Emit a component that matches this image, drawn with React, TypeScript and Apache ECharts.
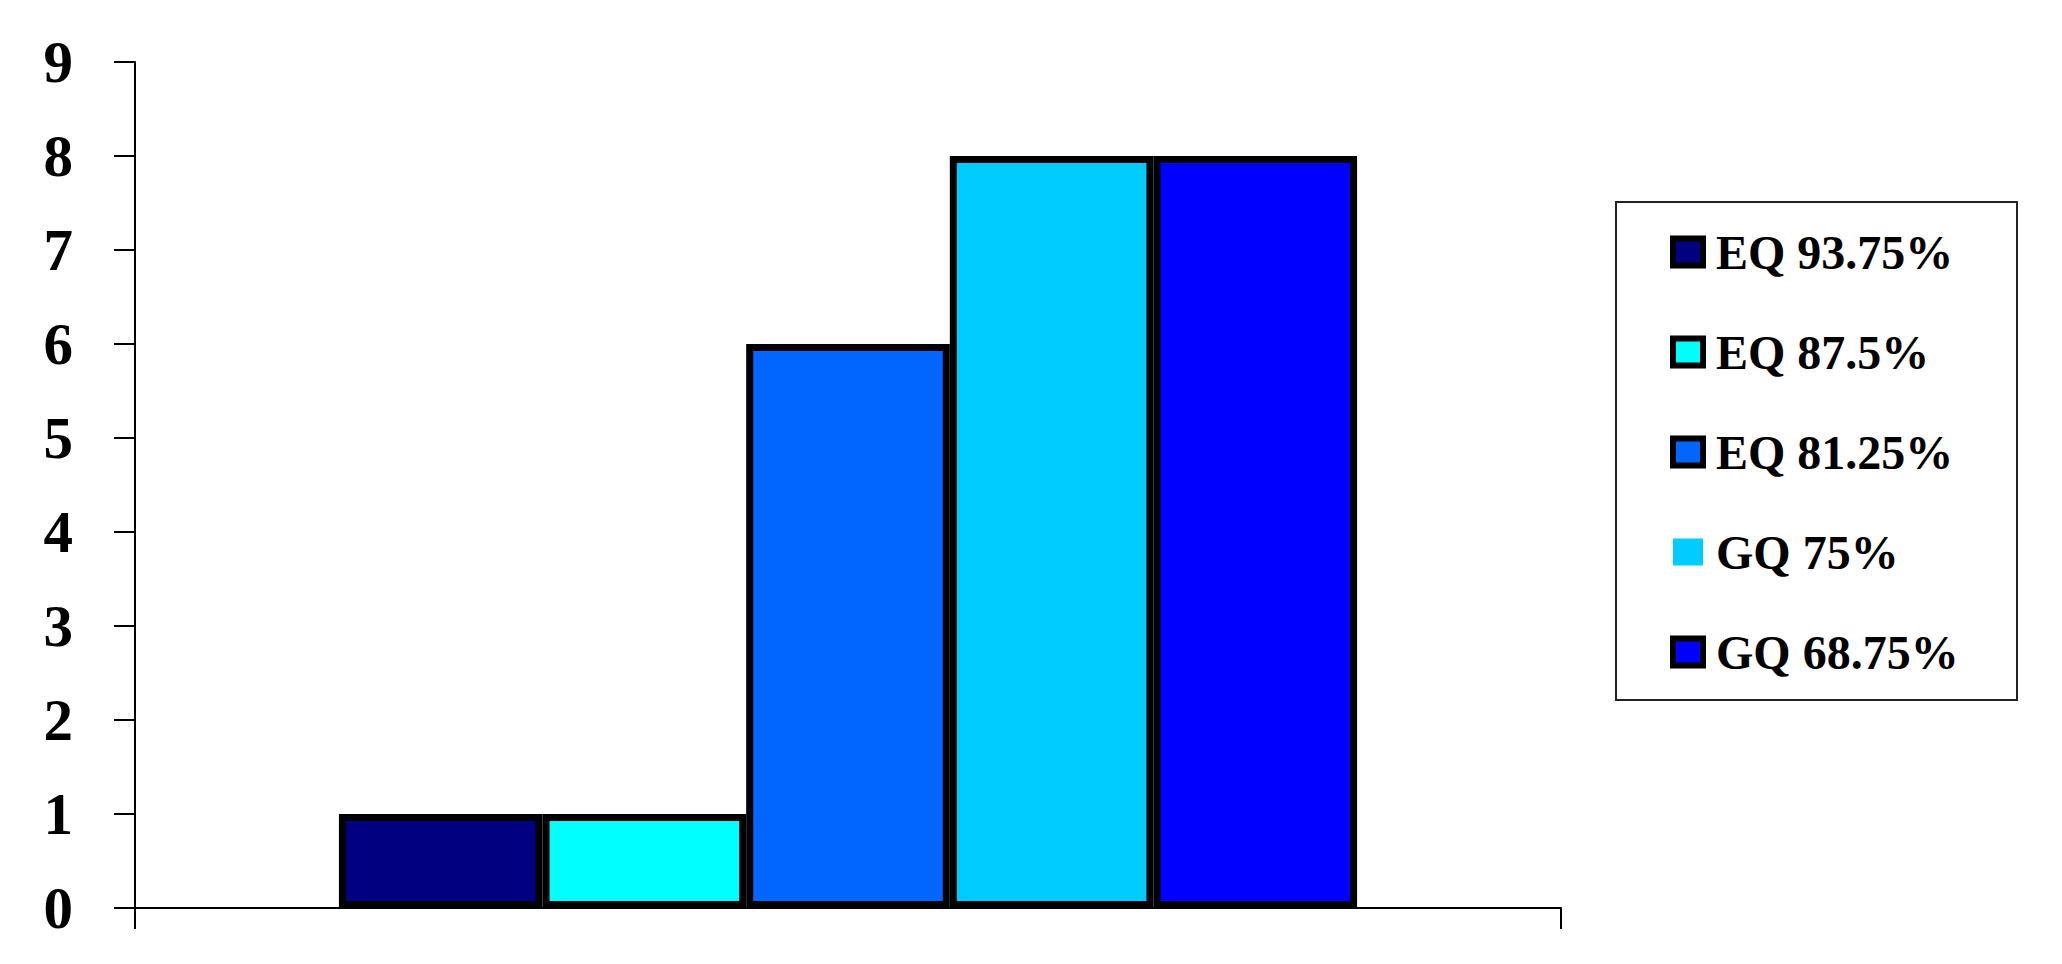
import React, { useEffect, useRef } from 'react';
import * as echarts from 'echarts';

const categories = [''];
const seriesNames = ['EQ 93.75%', 'EQ 87.5%', 'EQ 81.25%', 'GQ 75%', 'GQ 68.75%'];
const seriesValues = [[1], [1], [6], [8], [8]];
const seriesColors = ['#000080', '#00FFFF', '#0066FF', '#00CCFF', '#0000FF'];
const legendBorderless = ['GQ 75%'];
const yMin = 0;
const yMax = 9;
const yInterval = 1;

const FONT = '"Liberation Serif", "Times New Roman", serif';

export default function App() {
  const ref = useRef<HTMLDivElement>(null);
  useEffect(() => {
    if (!ref.current) return;
    const chart = echarts.init(ref.current, undefined, { renderer: 'svg' });
    chart.setOption({
      animation: false,
      backgroundColor: '#fff',
      grid: { left: 135, right: 501, top: 62, bottom: 56, containLabel: false },
      xAxis: {
        type: 'category',
        data: categories,
        boundaryGap: true,
        axisLine: { show: true, lineStyle: { color: '#000', width: 2 } },
        axisTick: { show: true, length: 21, lineStyle: { color: '#000', width: 2 } },
        axisLabel: { show: false },
        splitLine: { show: false },
      },
      yAxis: {
        type: 'value',
        min: yMin,
        max: yMax,
        interval: yInterval,
        axisLine: { show: true, lineStyle: { color: '#000', width: 2 } },
        axisTick: { show: true, length: 21, lineStyle: { color: '#000', width: 2 } },
        axisLabel: {
          show: true,
          margin: 62,
          color: '#000',
          fontFamily: FONT,
          fontWeight: 'bold',
          fontSize: 59,
        },
        splitLine: { show: false },
      },
      legend: {
        orient: 'vertical',
        left: 1670,
        top: 228,
        padding: 0,
        itemWidth: 30,
        itemHeight: 27,
        itemGap: 52,
        icon: 'rect',
        textStyle: {
          fontFamily: FONT,
          fontWeight: 'bold',
          fontSize: 48,
          color: '#000',
          padding: [0, 0, 0, 8],
        },
        data: seriesNames.map((n) => ({
          name: n,
          itemStyle: legendBorderless.includes(n)
            ? { borderWidth: 0 }
            : { borderColor: '#000', borderWidth: 6 },
        })),
      },
      graphic: [
        {
          type: 'rect',
          shape: { x: 1616, y: 202, width: 401, height: 498 },
          style: { fill: 'none', stroke: '#222', lineWidth: 2 },
          silent: true,
        },
      ],
      series: seriesNames.map((n, i) => ({
        name: n,
        type: 'bar',
        data: seriesValues[i],
        barGap: '0%',
        barCategoryGap: '28.6%',
        itemStyle: { color: seriesColors[i], borderColor: '#000', borderWidth: 7 },
      })),
    });
    return () => chart.dispose();
  }, []);
  return (
    <div
      ref={ref}
      style={{ position: 'absolute', left: 0, top: 0, width: 2062, height: 964 }}
    />
  );
}
